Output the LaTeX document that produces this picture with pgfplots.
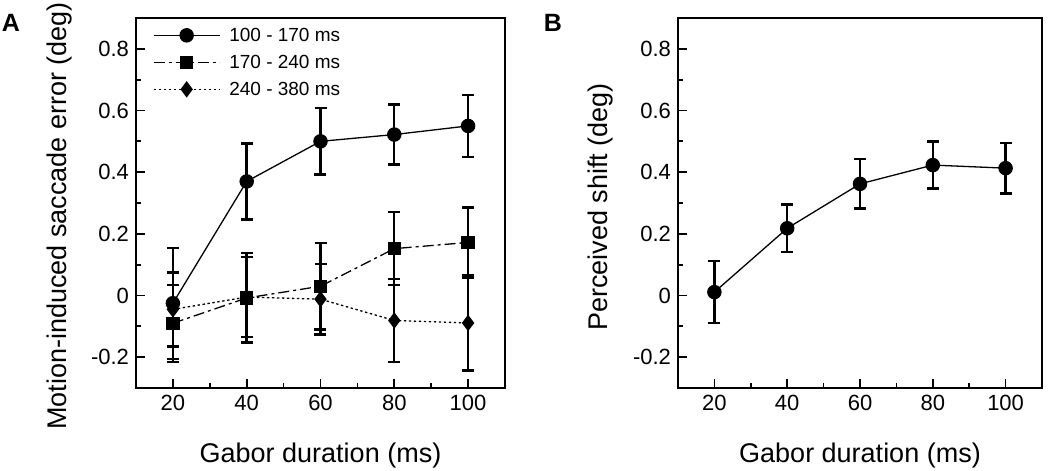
\documentclass[border=0pt]{standalone}
\usepackage{fontspec}
\setmainfont{Liberation Sans}
\usepackage{pgfplots}
\usepackage{pgfplotstable}
\pgfplotsset{compat=1.18}

% panel A: saccade error, three time windows
\pgfplotstableread{
x    y      e
20  -0.025  0.180
40   0.370  0.123
60   0.500  0.108
80   0.522  0.097
100  0.550  0.100
}\earlydata
\pgfplotstableread{
x    y      e
20  -0.090  0.125
40  -0.008  0.145
60   0.030  0.140
80   0.152  0.118
100  0.172  0.114
}\middata
\pgfplotstableread{
x    y      e
20  -0.045  0.120
40  -0.005  0.130
60  -0.012  0.115
80  -0.081  0.135
100 -0.089  0.154
}\latedata
% panel B: perceived shift
\pgfplotstableread{
x    y      e
20   0.011  0.100
40   0.218  0.077
60   0.362  0.080
80   0.423  0.076
100  0.413  0.082
}\perceptdata

\pgfplotsset{
  panel/.style={
    scale only axis, height=185pt,
    xmin=10, xmax=110, ymin=-0.3, ymax=0.9,
    xtick={20,40,60,80,100}, ytick={-0.2,0,0.2,0.4,0.6,0.8},
    minor x tick num=1, minor y tick num=1,
    tick align=inside, xtick pos=bottom, ytick pos=left,
    major tick length=4.5pt, minor tick length=2.5pt,
    axis line style={line width=0.85pt},
    every tick/.style={black, line width=0.85pt},
    tick label style={font=\fontsize{11}{13}\selectfont},
    label style={font=\fontsize{13.5}{16}\selectfont},
    /pgf/number format/assume math mode=true,
    xlabel={Gabor duration (ms)},
    xlabel style={at={(axis description cs:0.5,0)}, anchor=base, yshift=-37.5pt},
  },
  series/.style={black, line width=0.65pt, mark options={solid},
    error bars/y dir=both, error bars/y explicit,
    error bars/error bar style={solid, line width=1.2pt},
    error bars/error mark options={solid, rotate=90, mark size=3pt, line width=1.2pt}},
}

\begin{document}
\begin{tikzpicture}
\useasboundingbox (-68pt,-41.5pt) rectangle (457pt,194pt);

\begin{axis}[panel, width=184.5pt, at={(0pt,0pt)}, anchor=south west,
  ylabel={Motion-induced saccade error (deg)},
  ylabel style={at={([xshift=-34.5pt,yshift=-6.5pt]axis description cs:0,0.5)}, anchor=base},
  legend style={draw=none, fill=none, inner sep=0pt, at={(0.045,0.984)}, anchor=north west,
    font=\fontsize{9.5}{11}\selectfont, row sep=2.5pt, column sep=3pt,
    nodes={inner sep=1.5pt, text height=7pt, text depth=1pt}},
  legend cell align=left,
  legend image code/.code={\draw[mark repeat=2, mark phase=2] plot coordinates {(0pt,0pt) (16.5pt,0pt) (33pt,0pt)};},
]
\addplot[series, mark=*, mark size=3.3pt] table[x=x, y=y, y error=e] {\earlydata};
\addlegendentry{100 - 170 ms}
\addplot[series, dash pattern=on 5.5pt off 2pt on 1.5pt off 2pt, mark=square*, mark size=3pt] table[x=x, y=y, y error=e] {\middata};
\addlegendentry{170 - 240 ms}
\addplot[series, dash pattern=on 1.2pt off 1.3pt, mark=diamond*, mark size=3.6pt] table[x=x, y=y, y error=e] {\latedata};
\addlegendentry{240 - 380 ms}
\end{axis}

\begin{axis}[panel, width=182pt, at={(271pt,0pt)}, anchor=south west,
  ylabel={Perceived shift (deg)},
  ylabel style={at={([xshift=-35.5pt,yshift=-2pt]axis description cs:0,0.5)}, anchor=base},
]
\addplot[series, mark=*, mark size=3.3pt] table[x=x, y=y, y error=e] {\perceptdata};
\end{axis}

\node[font=\fontsize{12.5}{14}\bfseries] at (-62.5pt,182.5pt) {A};
\node[font=\fontsize{12.5}{14}\bfseries] at (208.5pt,182.5pt) {B};
\end{tikzpicture}
\end{document}
